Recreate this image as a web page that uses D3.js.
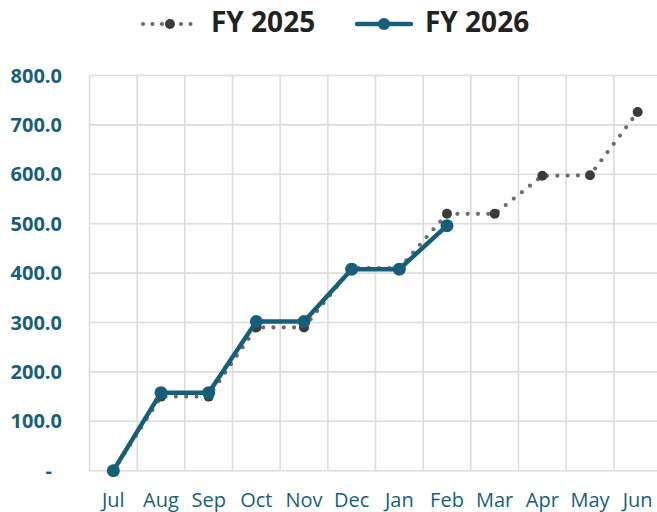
<!DOCTYPE html>
<html>
<head>
<meta charset="utf-8">
<script src="https://cdn.jsdelivr.net/npm/d3@7"></script>
<style>
  body { margin: 0; background: #fff; }
  svg { display: block; font-family: "Open Sans", sans-serif; }
</style>
</head>
<body>
<svg width="657" height="512"></svg>
<script>
var months = ["Jul", "Aug", "Sep", "Oct", "Nov", "Dec", "Jan", "Feb", "Mar", "Apr", "May", "Jun"];
var fy2025 = [0, 150, 150, 290, 290, 410, 410, 520, 520, 597, 598, 726];
var fy2026 = [0, 158, 158, 302, 302, 408, 408, 496];
var yTicks = [0, 100, 200, 300, 400, 500, 600, 700, 800];

var svg = d3.select("svg"),
    plotL = 89.5, plotR = 661.5, plotT = 75.5, plotB = 470.7;

var teal = "#175f78", grey = "#6b6b6b", dark = "#3c3c3c";

var x = d3.scaleBand().domain(months).range([plotL, plotR]).padding(0);
var y = d3.scaleLinear().domain([0, 800]).range([plotB, plotT]);
var cx = function(i) { return x(months[i]) + x.bandwidth() / 2; };

// grid
var grid = svg.append("g").attr("stroke", "#dcdcdc").attr("stroke-width", 1.6);
grid.selectAll(".h").data(yTicks).enter().append("line")
    .attr("x1", plotL).attr("x2", plotR)
    .attr("y1", function(d) { return y(d); }).attr("y2", function(d) { return y(d); });
grid.selectAll(".v").data(months).enter().append("line")
    .attr("x1", function(d) { return x(d); }).attr("x2", function(d) { return x(d); })
    .attr("y1", plotT).attr("y2", plotB);

// y labels
svg.append("g").selectAll("text").data(yTicks).enter().append("text")
    .attr("x", function(d) { return d === 0 ? 52 : 62; })
    .attr("y", function(d) { return y(d); })
    .attr("dy", "0.35em")
    .attr("text-anchor", "end")
    .attr("fill", teal)
    .style("font-size", "20px").style("font-weight", "bold")
    .text(function(d) { return d === 0 ? "-" : d3.format(".1f")(d); });

// x labels
svg.append("g").selectAll("text").data(months).enter().append("text")
    .attr("x", function(d, i) { return cx(i); })
    .attr("y", 507)
    .attr("text-anchor", "middle")
    .attr("fill", teal)
    .style("font-size", "20px")
    .text(function(d) { return d; });

var line = d3.line().x(function(d, i) { return cx(i); }).y(function(d) { return y(d); });

// FY 2025
svg.append("path").datum(fy2025)
    .attr("d", line).attr("fill", "none")
    .attr("stroke", grey).attr("stroke-width", 4.2)
    .attr("stroke-linecap", "round").attr("stroke-dasharray", "0 10.3");
svg.append("g").selectAll("circle").data(fy2025).enter().append("circle")
    .attr("cx", function(d, i) { return cx(i); })
    .attr("cy", function(d) { return y(d); })
    .attr("r", 5).attr("fill", dark);

// FY 2026
svg.append("path").datum(fy2026)
    .attr("d", line).attr("fill", "none")
    .attr("stroke", teal).attr("stroke-width", 4.5)
    .attr("stroke-linejoin", "round");
svg.append("g").selectAll("circle").data(fy2026).enter().append("circle")
    .attr("cx", function(d, i) { return cx(i); })
    .attr("cy", function(d) { return y(d); })
    .attr("r", 6.5).attr("fill", teal);

// legend
var lg = svg.append("g");
lg.append("line").attr("x1", 143).attr("x2", 198).attr("y1", 24).attr("y2", 24)
    .attr("stroke", grey).attr("stroke-width", 4.2)
    .attr("stroke-linecap", "round").attr("stroke-dasharray", "0 9.5");
lg.append("circle").attr("cx", 170).attr("cy", 24).attr("r", 5).attr("fill", dark);
lg.append("text").attr("x", 211).attr("y", 32).attr("fill", "#222")
    .style("font-size", "28px").style("font-weight", "bold").text("FY 2025");

lg.append("line").attr("x1", 357).attr("x2", 411).attr("y1", 24).attr("y2", 24)
    .attr("stroke", teal).attr("stroke-width", 4.5).attr("stroke-linecap", "round");
lg.append("circle").attr("cx", 384).attr("cy", 24).attr("r", 6).attr("fill", teal);
lg.append("text").attr("x", 425).attr("y", 32).attr("fill", "#222")
    .style("font-size", "28px").style("font-weight", "bold").text("FY 2026");
</script>
</body>
</html>
